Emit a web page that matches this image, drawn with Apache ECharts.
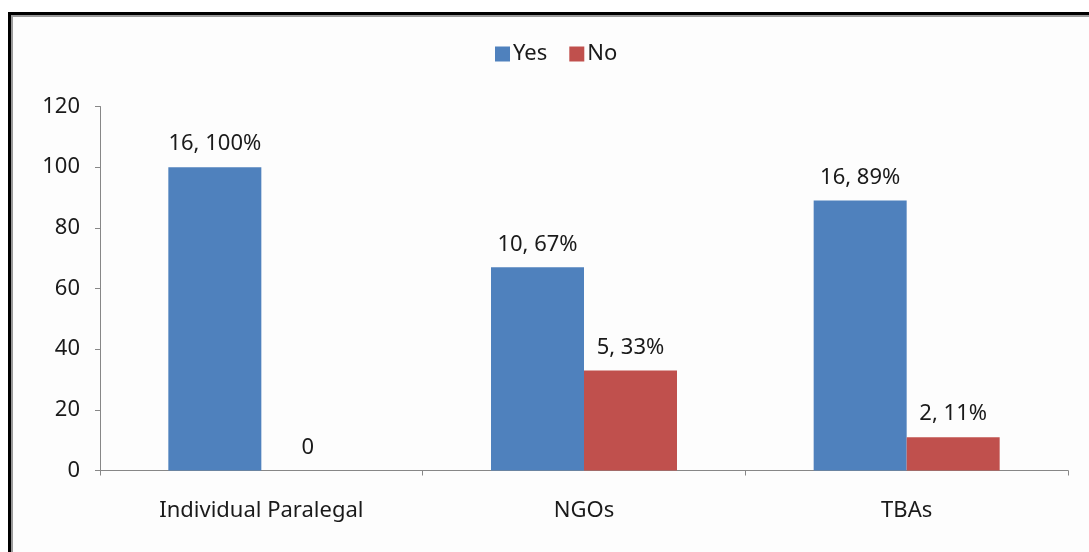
<!DOCTYPE html>
<html>
<head>
<meta charset="utf-8">
<script src="https://cdn.jsdelivr.net/npm/echarts@6/dist/echarts.min.js"></script>
<style>
  html, body { margin: 0; padding: 0; background: #ffffff; }
  body { width: 1089px; height: 552px; position: relative; overflow: hidden; }
  #frame {
    position: absolute; left: 8px; top: 12px; width: 1200px; height: 700px;
    border: 3px solid #000; box-shadow: inset 2px 2px 0 #9a9a9a; background: #fdfdfd;
  }
  #chart { position: absolute; left: 0; top: 0; width: 1089px; height: 552px; }
</style>
</head>
<body>
<div id="frame"></div>
<div id="chart"></div>
<script>
// Response counts and shares per provider type
const categories = ['Individual Paralegal', 'NGOs', 'TBAs'];
const yesCounts = [16, 10, 16];
const yesPercent = [100, 67, 89];
const noCounts = [0, 5, 2];
const noPercent = [0, 33, 11];
const yTicks = [0, 20, 40, 60, 80, 100, 120];

const textColor = '#1a1a1a';
const axisGrey = '#878787';
const font = '"Noto Sans", "Open Sans", sans-serif';

function pairLabel(counts) {
  return function (p) {
    if (p.value === 0) return '0';
    return counts[p.dataIndex] + ', ' + p.value + '%';
  };
}

const chart = echarts.init(document.getElementById('chart'), null, { renderer: 'canvas' });
chart.setOption({
  backgroundColor: 'transparent',
  animation: false,
  textStyle: { fontFamily: font, color: textColor },
  legend: {
    top: 38,
    left: 490,
    itemWidth: 15,
    itemHeight: 15,
    itemGap: 22,
    icon: 'rect',
    textStyle: { fontSize: 22, color: textColor, fontFamily: font, padding: [0, 0, 0, -2] },
    data: ['Yes', 'No']
  },
  grid: { left: 100, right: 21, top: 106.5, bottom: 81.5, containLabel: false },
  xAxis: {
    type: 'category',
    data: categories,
    axisLine: { lineStyle: { color: axisGrey, width: 1 } },
    axisTick: { show: true, length: 5, lineStyle: { color: axisGrey } },
    axisLabel: { fontSize: 22, color: textColor, fontFamily: font, margin: 29 }
  },
  yAxis: {
    type: 'value',
    min: yTicks[0],
    max: yTicks[yTicks.length - 1],
    interval: yTicks[1] - yTicks[0],
    axisLine: { show: true, lineStyle: { color: axisGrey, width: 1 } },
    axisTick: { show: true, length: 5, lineStyle: { color: axisGrey } },
    splitLine: { show: false },
    axisLabel: { fontSize: 22, color: textColor, fontFamily: font, margin: 20 }
  },
  series: [
    {
      name: 'Yes',
      type: 'bar',
      data: yesPercent,
      barWidth: 93,
      barGap: '0%',
      itemStyle: { color: '#4F81BD' },
      label: {
        show: true, position: 'top', distance: 12,
        fontSize: 22, color: textColor, fontFamily: font,
        formatter: pairLabel(yesCounts)
      }
    },
    {
      name: 'No',
      type: 'bar',
      data: noPercent,
      barWidth: 93,
      barGap: '0%',
      itemStyle: { color: '#C0504D' },
      label: {
        show: true, position: 'top', distance: 12,
        fontSize: 22, color: textColor, fontFamily: font,
        formatter: pairLabel(noCounts)
      }
    }
  ]
});
</script>
</body>
</html>
